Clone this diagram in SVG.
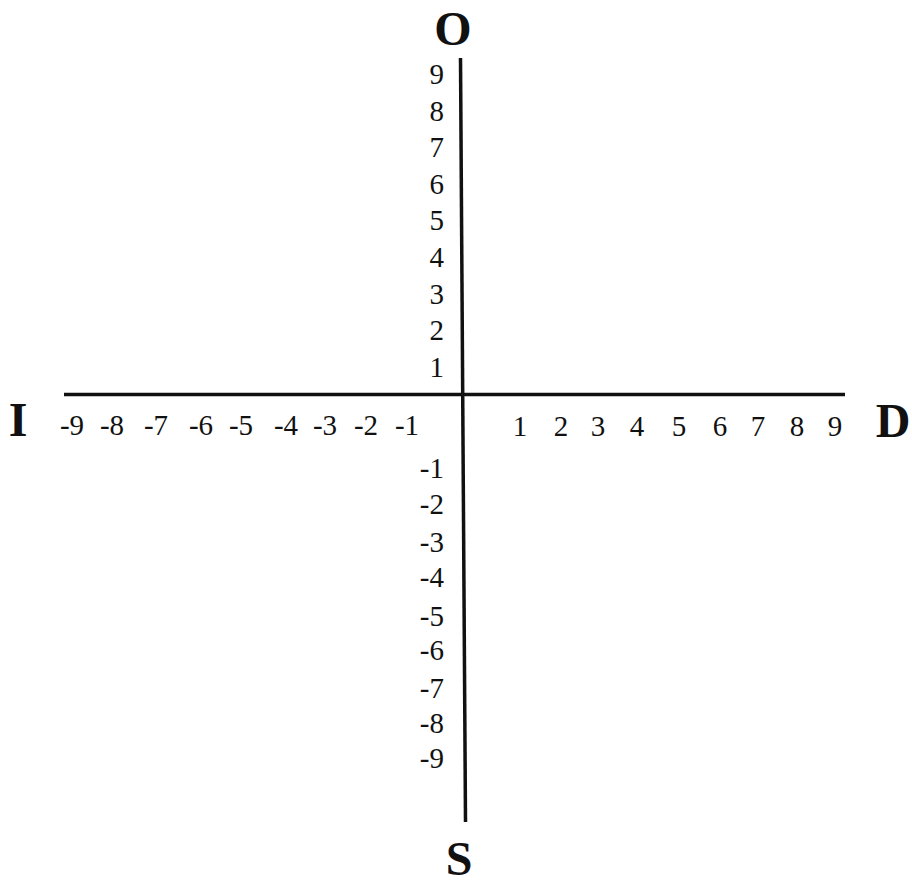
<svg xmlns="http://www.w3.org/2000/svg" width="912" height="894" viewBox="0 0 912 894">
<style>
.n{font-family:"Liberation Serif","Times New Roman",serif;font-size:29px;fill:#111;text-anchor:middle}
.v{font-family:"Liberation Serif","Times New Roman",serif;font-size:29px;fill:#111;text-anchor:end}
.L{font-family:"Liberation Serif","Times New Roman",serif;font-size:48px;font-weight:bold;fill:#111;text-anchor:middle}
.ax{stroke:#111;stroke-width:3.5;fill:none;stroke-linecap:butt}
</style>
<rect width="912" height="894" fill="#fff"/>
<g id="axes">
<line class="ax" x1="64" y1="394.5" x2="845" y2="394.5"/>
<line class="ax" x1="460.5" y1="58" x2="465.5" y2="822"/>
</g>
<g id="label-O"><text class="L" x="453" y="45">O</text></g>
<g id="label-S"><text class="L" x="459" y="875">S</text></g>
<g id="label-I"><text class="L" x="18" y="436">I</text></g>
<g id="label-D"><text class="L" x="893" y="437">D</text></g>
<g id="y-positive">
<text class="v" x="444" y="84">9</text>
<text class="v" x="444" y="121">8</text>
<text class="v" x="444" y="157">7</text>
<text class="v" x="444" y="194">6</text>
<text class="v" x="444" y="230">5</text>
<text class="v" x="444" y="267">4</text>
<text class="v" x="444" y="304">3</text>
<text class="v" x="444" y="340">2</text>
<text class="v" x="444" y="377">1</text>
</g>
<g id="y-negative">
<text class="v" x="444" y="478">-1</text>
<text class="v" x="444" y="514">-2</text>
<text class="v" x="444" y="552">-3</text>
<text class="v" x="444" y="587">-4</text>
<text class="v" x="444" y="626">-5</text>
<text class="v" x="444" y="660">-6</text>
<text class="v" x="444" y="698">-7</text>
<text class="v" x="444" y="733">-8</text>
<text class="v" x="444" y="768">-9</text>
</g>
<g id="x-negative">
<text class="n" x="72" y="435">-9</text>
<text class="n" x="112" y="435">-8</text>
<text class="n" x="156" y="435">-7</text>
<text class="n" x="201" y="435">-6</text>
<text class="n" x="241" y="435">-5</text>
<text class="n" x="286" y="435">-4</text>
<text class="n" x="325" y="435">-3</text>
<text class="n" x="366" y="435">-2</text>
<text class="n" x="407" y="435">-1</text>
</g>
<g id="x-positive">
<text class="n" x="520" y="436">1</text>
<text class="n" x="561" y="436">2</text>
<text class="n" x="598" y="436">3</text>
<text class="n" x="637" y="436">4</text>
<text class="n" x="679" y="436">5</text>
<text class="n" x="720" y="436">6</text>
<text class="n" x="758" y="436">7</text>
<text class="n" x="797" y="436">8</text>
<text class="n" x="835" y="436">9</text>
</g>
</svg>
